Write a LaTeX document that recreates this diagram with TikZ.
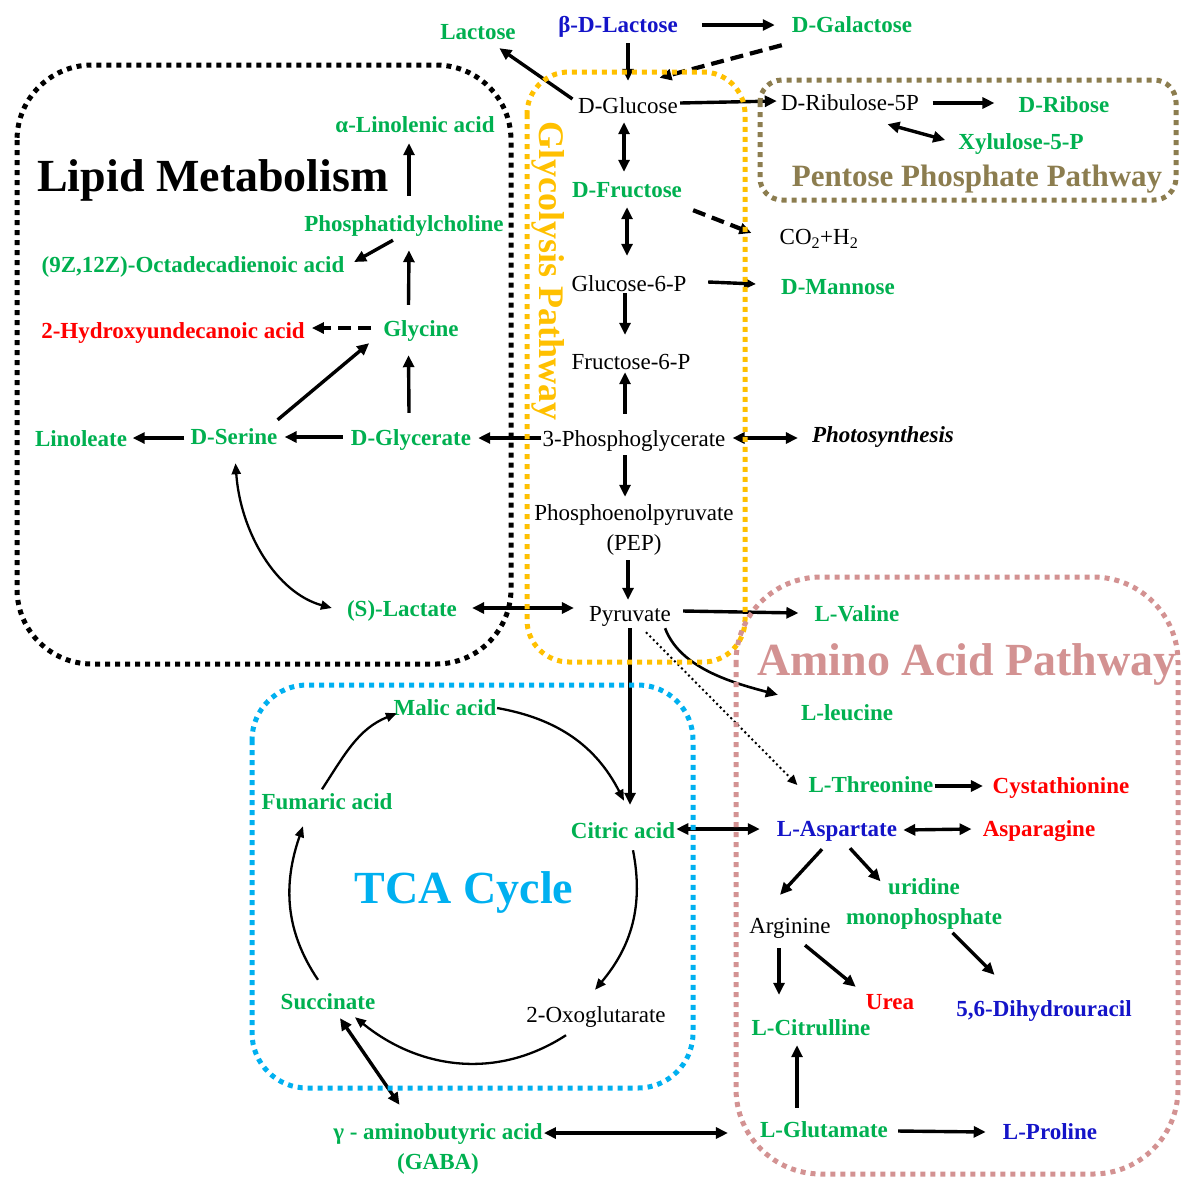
\documentclass[tikz,border=0pt]{standalone}
\usepackage{fontspec}
\setmainfont{Liberation Serif}
\usepackage{xcolor}
\usepackage{tikz}
\usetikzlibrary{arrows.meta,calc}

\definecolor{metgreen}{HTML}{00B050}
\definecolor{metblue}{HTML}{1414C8}
\definecolor{metred}{HTML}{FF0000}
\definecolor{tcacyan}{HTML}{00B0F0}
\definecolor{glyorange}{HTML}{FFC000}
\definecolor{ppolive}{HTML}{8C7D4F}
\definecolor{aarose}{HTML}{D39292}

\begin{document}
\begin{tikzpicture}[x=1pt, y=1pt,
    plain/.style={inner sep=2pt, text height=18pt, text depth=3pt, font=\fontsize{23}{30}\selectfont},
    cmpd/.style={plain, font=\fontsize{23}{30}\selectfont\bfseries, text=metgreen},
    cmpdred/.style={cmpd, text=metred},
    cmpdblue/.style={cmpd, text=metblue},
    twoline/.style={align=center, inner sep=2pt, font=\fontsize{23}{30}\selectfont},
    twogreen/.style={twoline, font=\fontsize{23}{30}\selectfont\bfseries, text=metgreen},
    title/.style={anchor=base, font=\fontsize{46}{50}\selectfont\bfseries},
    arr/.style={-{Triangle[length=12pt,width=11pt]}, line width=3.4pt},
    biarr/.style={{Triangle[length=12pt,width=11pt]}-{Triangle[length=12pt,width=11pt]}, line width=3.4pt},
    dasharr/.style={arr, line width=4.2pt, dash pattern=on 13pt off 7pt},
    cycarr/.style={-{Triangle[length=11pt,width=9pt]}, line width=2.3pt},
    thinbiarr/.style={{Triangle[length=11pt,width=9pt]}-{Triangle[length=11pt,width=9pt]}, line width=2.3pt},
    dotarr/.style={-{Triangle[length=10pt,width=9pt]}, line width=2pt, dash pattern=on 2pt off 3pt},
    pathbox/.style={line width=5pt, dash pattern=on 5pt off 5pt}]
    \useasboundingbox (0,0) rectangle (1182,-1179);

    % Sugars at the top
    \node[cmpd] (lactose) at (478,-32) {Lactose};
    \node[cmpdblue] (blactose) at (618,-25) {β-D-Lactose};
    \node[cmpd] (galactose) at (852,-25) {D-Galactose};
    \node[plain] (glucose) at (628,-106) {D-Glucose};

    % Pentose phosphate
    \node[plain] (ribulose) at (850,-103) {D-Ribulose-5P};
    \node[cmpd] (ribose) at (1064,-105) {D-Ribose};
    \node[cmpd] (xylulose) at (1021,-142) {Xylulose-5-P};

    % Glycolysis
    \node[cmpd] (fructose) at (627,-190) {D-Fructose};
    \node[plain] (cotwo) at (819,-237) {CO\textsubscript{2}+H\textsubscript{2}};
    \node[plain] (gsixp) at (629,-284) {Glucose-6-P};
    \node[cmpd] (mannose) at (838,-287) {D-Mannose};
    \node[plain] (fsixp) at (631,-362) {Fructose-6-P};
    \node[plain] (pga) at (634,-439) {3-Phosphoglycerate};
    \node[plain, font=\fontsize{23}{30}\selectfont\bfseries\itshape] (photo) at (883,-435) {Photosynthesis};
    \node[twoline] (pep) at (634,-530) {Phosphoenolpyruvate\\(PEP)};
    \node[plain] (pyruvate) at (630,-614) {Pyruvate};
    \node[cmpd] (lactate) at (402,-609) {(S)-Lactate};

    % Lipid metabolism
    \node[cmpd] (linolenic) at (415,-125) {α-Linolenic acid};
    \node[cmpd] (phosph) at (404,-224) {Phosphatidylcholine};
    \node[cmpd] (octa) at (193,-265) {(9Z,12Z)-Octadecadienoic acid};
    \node[cmpdred] (hydroxy) at (173,-331) {2-Hydroxyundecanoic acid};
    \node[cmpd] (glycine) at (421,-329) {Glycine};
    \node[cmpd] (linoleate) at (81,-439) {Linoleate};
    \node[cmpd] (serine) at (234,-437) {D-Serine};
    \node[cmpd] (glycerate) at (411,-438) {D-Glycerate};

    % TCA cycle
    \node[cmpd] (malic) at (445,-708) {Malic acid};
    \node[cmpd] (fumaric) at (327,-802) {Fumaric acid};
    \node[cmpd] (citric) at (623,-831) {Citric acid};
    \node[cmpd] (succinate) at (328,-1002) {Succinate};
    \node[plain] (oxo) at (596,-1015) {2-Oxoglutarate};
    \node[twogreen] (gaba) at (438,-1149) {γ - aminobutyric acid\\(GABA)};

    % Amino acids
    \node[cmpd] (valine) at (857,-614) {L-Valine};
    \node[cmpd] (leucine) at (847,-713) {L-leucine};
    \node[cmpd] (threonine) at (871,-785) {L-Threonine};
    \node[cmpdred] (cysta) at (1061,-786) {Cystathionine};
    \node[cmpdblue] (aspartate) at (837,-829) {L-Aspartate};
    \node[cmpdred] (asparagine) at (1039,-829) {Asparagine};
    \node[twogreen] (uridine) at (924,-904) {uridine\\monophosphate};
    \node[plain] (arginine) at (790,-926) {Arginine};
    \node[cmpdred] (urea) at (890,-1002) {Urea};
    \node[cmpdblue] (dihydro) at (1044,-1009) {5,6-Dihydrouracil};
    \node[cmpd] (citrulline) at (811,-1028) {L-Citrulline};
    \node[cmpd] (glutamate) at (824,-1130) {L-Glutamate};
    \node[cmpdblue] (proline) at (1050,-1132) {L-Proline};

    % Titles
    \node[title] (lipidtitle) at (213,-191) {Lipid Metabolism};
    \node[title, text=tcacyan] (tcatitle) at (464,-903) {TCA Cycle};
    \node[title, text=aarose] (aatitle) at (967,-675) {Amino Acid Pathway};
    \node[title, font=\fontsize{31}{34}\selectfont\bfseries, text=ppolive] (pptitle) at (977,-186) {Pentose Phosphate Pathway};
    \node[title, font=\fontsize{36}{40}\selectfont\bfseries, text=glyorange, rotate=-90] (glytitle) at (539,-271) {Glycolysis Pathway};

    % Arrows around glucose
    \draw[arr] ([xshift=22pt]blactose.east) -- ([xshift=-15pt]galactose.west);
    \draw[arr] ([xshift=10pt,yshift=-5.5pt]blactose.south) -- ([yshift=12.5pt]glucose.north);
    \draw[dasharr] ([xshift=-8pt,yshift=-7.5pt]galactose.south west) -- ([xshift=-20.5pt,yshift=15.5pt]glucose.north east);
    \draw[arr] ([xshift=-3.5pt,yshift=7pt]glucose.west) -- ([xshift=-18.5pt,yshift=-3.5pt]lactose.south east);
    \draw[arr] ([yshift=3pt]glucose.east) -- ([xshift=-2pt,yshift=2pt]ribulose.west);
    \draw[biarr] ([xshift=-4pt,yshift=-3.5pt]glucose.south) -- ([xshift=-3pt,yshift=5.5pt]fructose.north);
    \draw[arr] ([xshift=11.5pt]ribulose.east) -- ([xshift=-22pt,yshift=2pt]ribose.west);
    \draw[biarr] ([xshift=37.5pt,yshift=-8.5pt]ribulose.south) -- ([xshift=-11pt,yshift=2pt]xylulose.west);

    % Glycolysis arrows
    \draw[dasharr] ([xshift=9pt,yshift=-7.5pt]fructose.south east) -- ([xshift=-26pt,yshift=4pt]cotwo.west);
    \draw[biarr] ([yshift=-4.5pt]fructose.south) -- ([xshift=-2pt,yshift=15.5pt]gsixp.north);
    \draw[arr] ([xshift=19.5pt,yshift=2pt]gsixp.east) -- ([xshift=-23pt,yshift=3pt]mannose.west);
    \draw[arr] ([xshift=-4pt,yshift=3.5pt]gsixp.south) -- ([xshift=-6pt,yshift=14.5pt]fsixp.north);
    \draw[arr] ([xshift=-9pt,yshift=12.5pt]pga.north) -- ([xshift=-6pt,yshift=2.5pt]fsixp.south);
    \draw[biarr] ([xshift=5pt,yshift=1pt]pga.east) -- ([xshift=-12pt,yshift=-3pt]photo.west);
    \draw[arr] ([xshift=1pt,yshift=1pt]pga.west) -- ([xshift=5pt]glycerate.east);
    \draw[arr] ([xshift=-9pt,yshift=-3.5pt]pga.south) -- ([xshift=-9pt,yshift=5.6pt]pep.north);
    \draw[arr] ([xshift=-6pt,yshift=-2.6pt]pep.south) -- ([xshift=-2pt,yshift=1.5pt]pyruvate.north);
    \draw[biarr] ([xshift=13pt,yshift=1pt]lactate.east) -- ([xshift=-13pt,yshift=6pt]pyruvate.west);
    \draw[thinbiarr] ([xshift=1.5pt,yshift=-13.5pt]serine.south) .. controls +(5,-70) and +(-55,15) .. ([xshift=-13pt,yshift=1pt]lactate.west);

    % Lipid arrows
    \draw[arr] ([xshift=-6pt,yshift=1pt]glycerate.west) -- ([xshift=5pt]serine.east);
    \draw[arr] ([xshift=-4pt,yshift=-1pt]serine.west) -- ([xshift=3.5pt,yshift=1pt]linoleate.east);
    \draw[arr] ([xshift=-2pt,yshift=4.5pt]serine.north east) -- ([xshift=-12pt,yshift=-1.5pt]glycine.south west);
    \draw[arr] ([xshift=-2pt,yshift=12.5pt]glycerate.north) -- ([xshift=-12.5pt,yshift=-13.5pt]glycine.south);
    \draw[dasharr] ([xshift=-10pt,yshift=1pt]glycine.west) -- ([xshift=5pt,yshift=3pt]hydroxy.east);
    \draw[arr] ([xshift=-12.5pt,yshift=11.5pt]glycine.north) -- ([xshift=5pt,yshift=-13.5pt]phosph.south);
    \draw[arr] ([xshift=-11pt,yshift=-3.5pt]phosph.south) -- ([xshift=7.5pt,yshift=3pt]octa.east);
    \draw[arr] ([xshift=5pt,yshift=15.5pt]phosph.north) -- ([xshift=-6pt,yshift=-5.5pt]linolenic.south);

    % Pyruvate branches
    \draw[arr] ([xshift=10pt,yshift=3pt]pyruvate.east) -- ([xshift=-14pt,yshift=1pt]valine.west);
    \draw[arr, line width=2.6pt] ([xshift=-8pt,yshift=-1.5pt]pyruvate.south east) .. controls +(15,-40) and +(-45,12) .. ([xshift=-21pt,yshift=5.5pt]leucine.north west);
    \draw[dotarr] ([xshift=16pt,yshift=-5.5pt]pyruvate.south) -- ([xshift=-9pt]threonine.west);
    \draw[arr] ([yshift=-1.5pt]pyruvate.south) -- ([xshift=7pt,yshift=13.5pt]citric.north);

    % TCA cycle
    \draw[cycarr] ([xshift=-1.5pt]malic.east) to[out=-10,in=117] ([xshift=1pt,yshift=17.5pt]citric.north);
    \draw[cycarr] ([xshift=10pt,yshift=-6.5pt]citric.south) to[out=-79,in=50] ([xshift=-1pt,yshift=12.5pt]oxo.north);
    \draw[cycarr] ([xshift=-30pt,yshift=-7.5pt]oxo.south) to[out=-147,in=-39] ([xshift=-22.5pt,yshift=-2.5pt]succinate.south east);
    \draw[cycarr] ([xshift=-10pt,yshift=9.5pt]succinate.north) to[out=124,in=-109] ([xshift=-24pt,yshift=-11.5pt]fumaric.south);
    \draw[cycarr] ([xshift=-5pt]fumaric.north) to[out=57,in=-158] ([xshift=5.5pt,yshift=7.5pt]malic.south west);

    % Amino acid arrows
    \draw[biarr] ([xshift=-1pt,yshift=2pt]citric.east) -- ([xshift=-15pt]aspartate.west);
    \draw[arr] ([xshift=-1pt,yshift=-1pt]threonine.east) -- ([xshift=-7.5pt]cysta.west);
    \draw[biarr] ([xshift=4pt,yshift=-1pt]aspartate.east) -- ([xshift=-9pt]asparagine.west);
    \draw[arr] ([xshift=-15pt,yshift=-7.5pt]aspartate.south) -- ([xshift=-10pt,yshift=18.5pt]arginine.north);
    \draw[arr] ([xshift=13pt,yshift=-6.5pt]aspartate.south) -- ([xshift=-43.5pt,yshift=-4.9pt]uridine.north);
    \draw[arr] ([xshift=28.5pt,yshift=-1.1pt]uridine.south) -- ([xshift=-49.5pt,yshift=21.5pt]dihydro.north);
    \draw[arr] ([xshift=-11pt,yshift=-9.5pt]arginine.south) -- ([xshift=-32pt,yshift=20.5pt]citrulline.north);
    \draw[arr] ([xshift=15pt,yshift=-6.5pt]arginine.south) -- ([xshift=-8pt,yshift=2.5pt]urea.north west);
    \draw[arr] ([xshift=-27pt,yshift=9.5pt]glutamate.north) -- ([xshift=-14pt,yshift=-4.5pt]citrulline.south);
    \draw[arr] ([xshift=8pt,yshift=-1pt]glutamate.east) -- ([xshift=-15pt]proline.west);
    \draw[biarr] ([xshift=-1pt,yshift=16pt]gaba.east) -- ([xshift=-30pt,yshift=-3pt]glutamate.west);
    \draw[biarr] ([xshift=12pt,yshift=-3.5pt]succinate.south) -- ([xshift=-38.5pt,yshift=16.6pt]gaba.north);

    % Pathway boxes
    \draw[pathbox, black, rounded corners=75pt] (17,-65) rectangle (511,-664);
    \draw[pathbox, glyorange, rounded corners=42pt] (527,-72) rectangle (745,-662);
    \draw[pathbox, ppolive, rounded corners=22pt] (760,-80) rectangle (1176,-200);
    \draw[pathbox, tcacyan, rounded corners=55pt] (252,-685) rectangle (693,-1088);
    \draw[pathbox, aarose, rounded corners=85pt] (736,-577) rectangle (1178,-1174);
\end{tikzpicture}
\end{document}
